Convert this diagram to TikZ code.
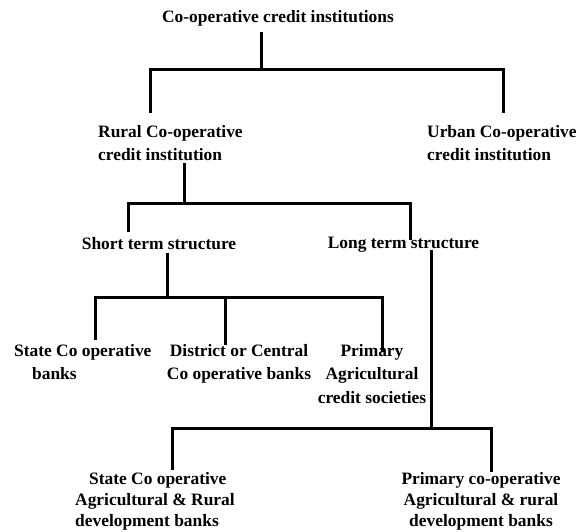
\documentclass[tikz,border=0pt]{standalone}
\usepackage{fontspec}
\setmainfont{Liberation Serif}
\usepackage{tikz}

\begin{document}
\begin{tikzpicture}[x=1pt, y=-1pt,
  lbl/.style={inner sep=0pt, font=\bfseries\fontsize{17.4}{23.5}\selectfont},
  tight/.style={font=\bfseries\fontsize{17.4}{21}\selectfont},
  branch/.style={line width=3pt}]
\useasboundingbox (0,0) rectangle (588,531);
\node[lbl, anchor=north] (coop) at (278,10) {Co-operative credit institutions};
\node[lbl, anchor=north west, align=left] (rural) at (98,125) {Rural Co-operative\\credit institution};
\node[lbl, anchor=north west, align=left] (urban) at (427,125) {Urban Co-operative\\credit institution};
\node[lbl, anchor=north] (short) at (159,237) {Short term structure};
\node[lbl, anchor=north] (long) at (403.5,237) {Long term structure};
\node[lbl, anchor=north west, align=left] (scb) at (14,344) {State Co operative\\\hspace*{18pt}banks};
\node[lbl, anchor=north, align=center] (dccb) at (239,344) {District or Central\\Co operative banks};
\node[lbl, anchor=north, align=center] (pacs) at (372,344) {Primary\\Agricultural\\credit societies};
\node[lbl, tight, anchor=north west, align=left] (scardb) at (75,472) {\hspace*{14pt}State Co operative\\Agricultural \& Rural\\development banks};
\node[lbl, tight, anchor=north, align=center] (pcardb) at (481,472) {Primary co-operative\\Agricultural \& rural\\development banks};
\coordinate (j1) at (261,69);
\coordinate (b1l) at (150,69);
\coordinate (b1r) at (503,69);
\coordinate (j2) at (184,203);
\coordinate (b2l) at (128,203);
\coordinate (b2r) at (410,203);
\coordinate (j3) at (167,297);
\coordinate (b3l) at (95,297);
\coordinate (b3m) at (225,297);
\coordinate (b3r) at (382,297);
\coordinate (j4) at (431,428);
\coordinate (b4l) at (172,428);
\coordinate (b4r) at (491,428);
\draw[branch] ([yshift=-6pt]coop.south -| j1) -- (j1);
\draw[branch] ([yshift=12pt]rural.north -| b1l) -- (b1l) -- (b1r) -- ([yshift=12pt]urban.north -| b1r);
\draw[branch] ([yshift=-2pt]rural.south -| j2) -- (j2);
\draw[branch] ([yshift=5pt]short.north -| b2l) -- (b2l) -- (b2r) -- ([yshift=-3pt]long.north -| b2r);
\draw[branch] ([yshift=-3pt]short.south -| j3) -- (j3);
\draw[branch] ([yshift=4pt]scb.north -| b3l) -- (b3l) -- (b3r) -- ([yshift=-8pt]pacs.north -| b3r);
\draw[branch] (b3m) -- ([yshift=-1pt]dccb.north -| b3m);
\draw[branch] ([yshift=3pt]long.south -| j4) -- (j4);
\draw[branch] ([yshift=2pt]scardb.north -| b4l) -- (b4l) -- (b4r) -- (pcardb.north -| b4r);
\end{tikzpicture}
\end{document}
